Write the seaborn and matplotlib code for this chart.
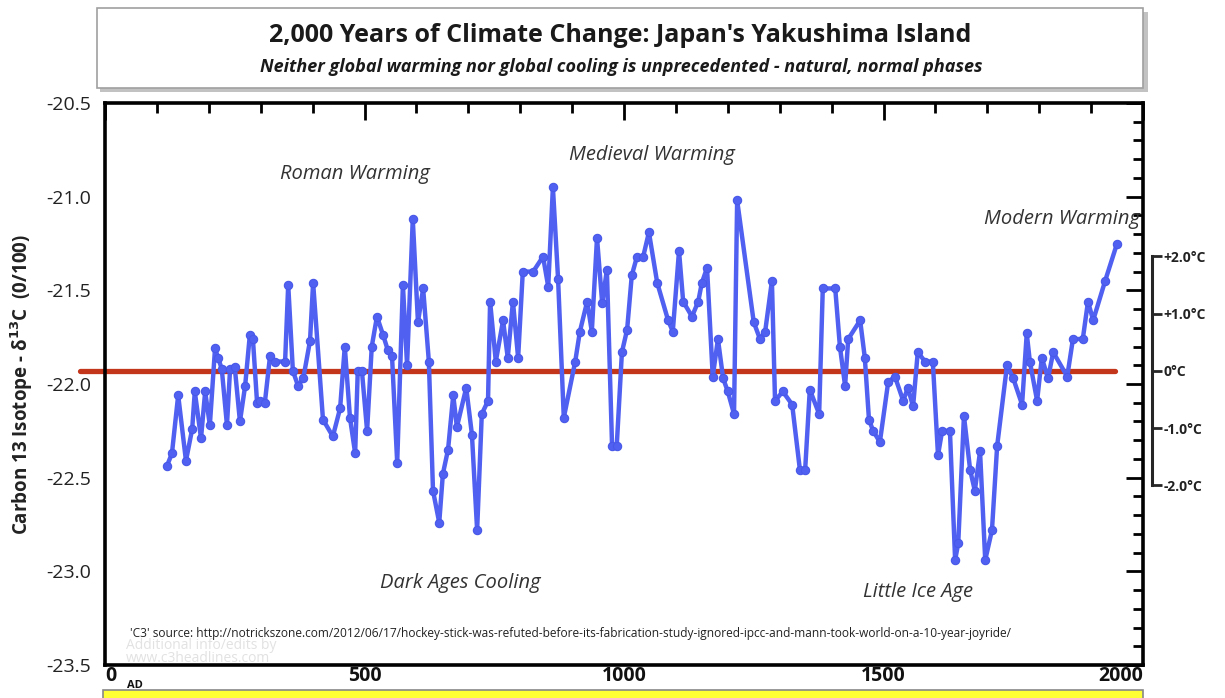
import numpy as np
import pandas as pd
import seaborn as sns
import matplotlib.pyplot as plt
from matplotlib.patches import Rectangle
from matplotlib.ticker import MultipleLocator

sns.set_theme(style="white")
plt.rcParams["font.family"] = ["Open Sans", "DejaVu Sans"]

# Yakushima cedar d13C record
years = [119, 129, 141, 156, 168, 173, 185, 193, 202, 212, 218, 225, 235, 241, 250, 260,
         270, 279, 285, 293, 299, 308, 318, 328, 347, 353, 362, 372, 382, 395, 401, 420,
         439, 453, 462, 472, 482, 487, 495, 505, 514, 524, 536, 545, 553, 563, 574, 582,
         593, 603, 613, 624, 632, 644, 651, 661, 671, 678, 696, 707, 717, 726, 738, 742,
         753, 767, 776, 786, 796, 805, 825, 844, 854, 863, 873, 884, 906, 915, 929, 938,
         948, 958, 967, 977, 986, 996, 1006, 1015, 1025, 1037, 1048, 1064, 1085, 1094, 1106, 1114,
         1131, 1143, 1150, 1160, 1171, 1181, 1191, 1200, 1212, 1218, 1250, 1262, 1272, 1285, 1291, 1306,
         1324, 1339, 1349, 1358, 1376, 1383, 1407, 1416, 1426, 1432, 1455, 1464, 1472, 1480, 1493, 1509,
         1522, 1538, 1547, 1557, 1566, 1580, 1595, 1605, 1613, 1628, 1638, 1644, 1655, 1667, 1676, 1686,
         1696, 1709, 1719, 1738, 1750, 1767, 1776, 1782, 1796, 1805, 1817, 1827, 1854, 1865, 1884, 1894,
         1904, 1927, 1950]
d13c = [-22.44, -22.37, -22.06, -22.41, -22.24, -22.04, -22.29, -22.04, -22.22, -21.81, -21.86, -21.92, -22.22, -21.92, -21.91, -22.20,
        -22.01, -21.74, -21.76, -22.10, -22.09, -22.10, -21.85, -21.88, -21.88, -21.47, -21.93, -22.01, -21.97, -21.77, -21.46, -22.19,
        -22.28, -22.13, -21.80, -22.18, -22.37, -21.93, -21.93, -22.25, -21.80, -21.64, -21.74, -21.82, -21.85, -22.42, -21.47, -21.90,
        -21.12, -21.67, -21.49, -21.88, -22.57, -22.74, -22.48, -22.35, -22.06, -22.23, -22.02, -22.27, -22.78, -22.16, -22.09, -21.56,
        -21.88, -21.66, -21.86, -21.56, -21.86, -21.40, -21.40, -21.32, -21.48, -20.95, -21.44, -22.18, -21.88, -21.72, -21.56, -21.72,
        -21.22, -21.57, -21.39, -22.33, -22.33, -21.83, -21.71, -21.42, -21.32, -21.32, -21.19, -21.46, -21.66, -21.72, -21.29, -21.56,
        -21.64, -21.56, -21.46, -21.38, -21.96, -21.76, -21.97, -22.04, -22.16, -21.02, -21.67, -21.76, -21.72, -21.45, -22.09, -22.04,
        -22.11, -22.46, -22.46, -22.03, -22.16, -21.49, -21.49, -21.80, -22.01, -21.76, -21.66, -21.86, -22.19, -22.25, -22.31, -21.99,
        -21.96, -22.09, -22.02, -22.12, -21.83, -21.88, -21.88, -22.38, -22.25, -22.25, -22.94, -22.85, -22.17, -22.46, -22.57, -22.36,
        -22.94, -22.78, -22.33, -21.90, -21.97, -22.11, -21.73, -21.88, -22.09, -21.86, -21.97, -21.83, -21.96, -21.76, -21.76, -21.56,
        -21.66, -21.45, -21.25]

baseline = -21.93          # 0 degC reference line
deg_per_unit = 0.3054      # d13C units per 1 degC on the side scale
baseline_span = [-48, 1946]
x_ticks = [0, 500, 1000, 1500, 2000]
x_labels = ["0", "500", "1000", "1500", "2000"]
temp_ticks = [-2, -1, 0, 1, 2]
temp_labels = ["-2.0°C", "-1.0°C", "0°C", "+1.0°C", "+2.0°C"]
periods = ["Roman Warming", "Medieval Warming", "Modern Warming", "Dark Ages Cooling", "Little Ice Age"]
period_pos = [(482, -20.88), (1054, -20.78), (1844, -21.12), (684, -23.06), (1567, -23.11)]

df = pd.DataFrame({"year": years, "d13c": d13c})

fig = plt.figure(figsize=(12.25, 6.98), dpi=100)
ax = fig.add_axes([105 / 1225, 33 / 698, 1038 / 1225, 562 / 698])

sns.lineplot(data=df, x="year", y="d13c", ax=ax, sort=False, estimator=None,
             color="#5060F0", linewidth=3.2, marker="o", markersize=6,
             markeredgecolor="#4858E8", markeredgewidth=0.8, zorder=3)
ax.plot(baseline_span, [baseline, baseline], color="#C4361C", linewidth=3.8,
        clip_on=False, zorder=2)

ax.set_xlim(0, 2000)
ax.set_ylim(-23.5, -20.5)
ax.set_xlabel("")
ax.set_ylabel("Carbon 13 Isotope - δ$^{\\mathbf{13}}$C  (0/100)", fontsize=13.5,
              fontweight="bold", color="#222222", labelpad=8)

ax.set_xticks(x_ticks)
ax.set_xticklabels(x_labels, fontsize=14, fontweight="bold", color="#111111")
ax.get_xticklabels()[0].set_ha("left")
ax.get_xticklabels()[-1].set_ha("right")
ax.xaxis.set_minor_locator(MultipleLocator(100))
ax.yaxis.set_major_locator(MultipleLocator(0.5))
ax.yaxis.set_minor_locator(MultipleLocator(0.1))
ax.yaxis.set_major_formatter(lambda v, p: f"{v:.1f}")
ax.tick_params(axis="y", labelsize=14, labelcolor="#222222", pad=10)
ax.tick_params(axis="x", pad=1)
ax.tick_params(which="both", direction="in", top=True, right=True, color="black", width=2)
ax.tick_params(which="major", length=12)
ax.tick_params(which="minor", length=7)
for s in ax.spines.values():
    s.set_color("black")
    s.set_linewidth(2.6)

ax.text(42, -23.58, "AD", fontsize=8, fontweight="bold", color="#111111",
        ha="left", va="top", clip_on=False)

# temperature side scale
sec = ax.secondary_yaxis(1.0087, functions=(lambda c: (c - baseline) / deg_per_unit,
                                           lambda t: t * deg_per_unit + baseline))
sec.set_yticks(temp_ticks)
sec.set_yticklabels(temp_labels, fontsize=10, fontweight="bold", color="#222222")
sec.spines["right"].set_bounds(-2, 2)
sec.spines["right"].set_linewidth(2.2)
sec.tick_params(direction="out", length=7, width=2, pad=1)
sec.yaxis.set_minor_locator(plt.NullLocator())

for label, (px, py) in zip(periods, period_pos):
    ax.text(px, py, label, fontsize=14.5, fontstyle="italic", color="#333333",
            ha="center", va="center")

ax.text(48, -23.33, "'C3' source: http://notrickszone.com/2012/06/17/hockey-stick-was-refuted-before-"
        "its-fabrication-study-ignored-ipcc-and-mann-took-world-on-a-10-year-joyride/",
        fontsize=8.6, color="#222222", ha="left", va="center")
ax.text(40, -23.395, "Additional info/edits by", fontsize=10, color="#e2e2e2",
        ha="left", va="center", zorder=0)
ax.text(40, -23.465, "www.c3headlines.com", fontsize=10, color="#e2e2e2",
        ha="left", va="center", zorder=0)

# title box
fig.patches.append(Rectangle((100 / 1225, 1 - 92 / 698), 1048 / 1225, 80 / 698,
                             transform=fig.transFigure, facecolor="#9a9a9a",
                             edgecolor="none", alpha=0.6, zorder=0))
fig.patches.append(Rectangle((97 / 1225, 1 - 88 / 698), 1046 / 1225, 80 / 698,
                             transform=fig.transFigure, facecolor="white",
                             edgecolor="#a0a0a0", linewidth=1.2, zorder=1))
fig.text(0.506, 1 - 35 / 698, "2,000 Years of Climate Change: Japan's Yakushima Island",
         fontsize=18, fontweight="bold", color="#1a1a1a", ha="center", va="center")
fig.text(0.507, 1 - 67 / 698,
         "Neither global warming nor global cooling is unprecedented - natural, normal phases",
         fontsize=13, fontweight="bold", fontstyle="italic", color="#1a1a1a",
         ha="center", va="center")

# yellow strip at the bottom
fig.patches.append(Rectangle((103 / 1225, -0.01), 1040 / 1225, 15 / 698,
                             transform=fig.transFigure, facecolor="#FFFF33",
                             edgecolor="#888888", linewidth=1.2, zorder=0))

fig.savefig("out.png", dpi=100, facecolor="white")
